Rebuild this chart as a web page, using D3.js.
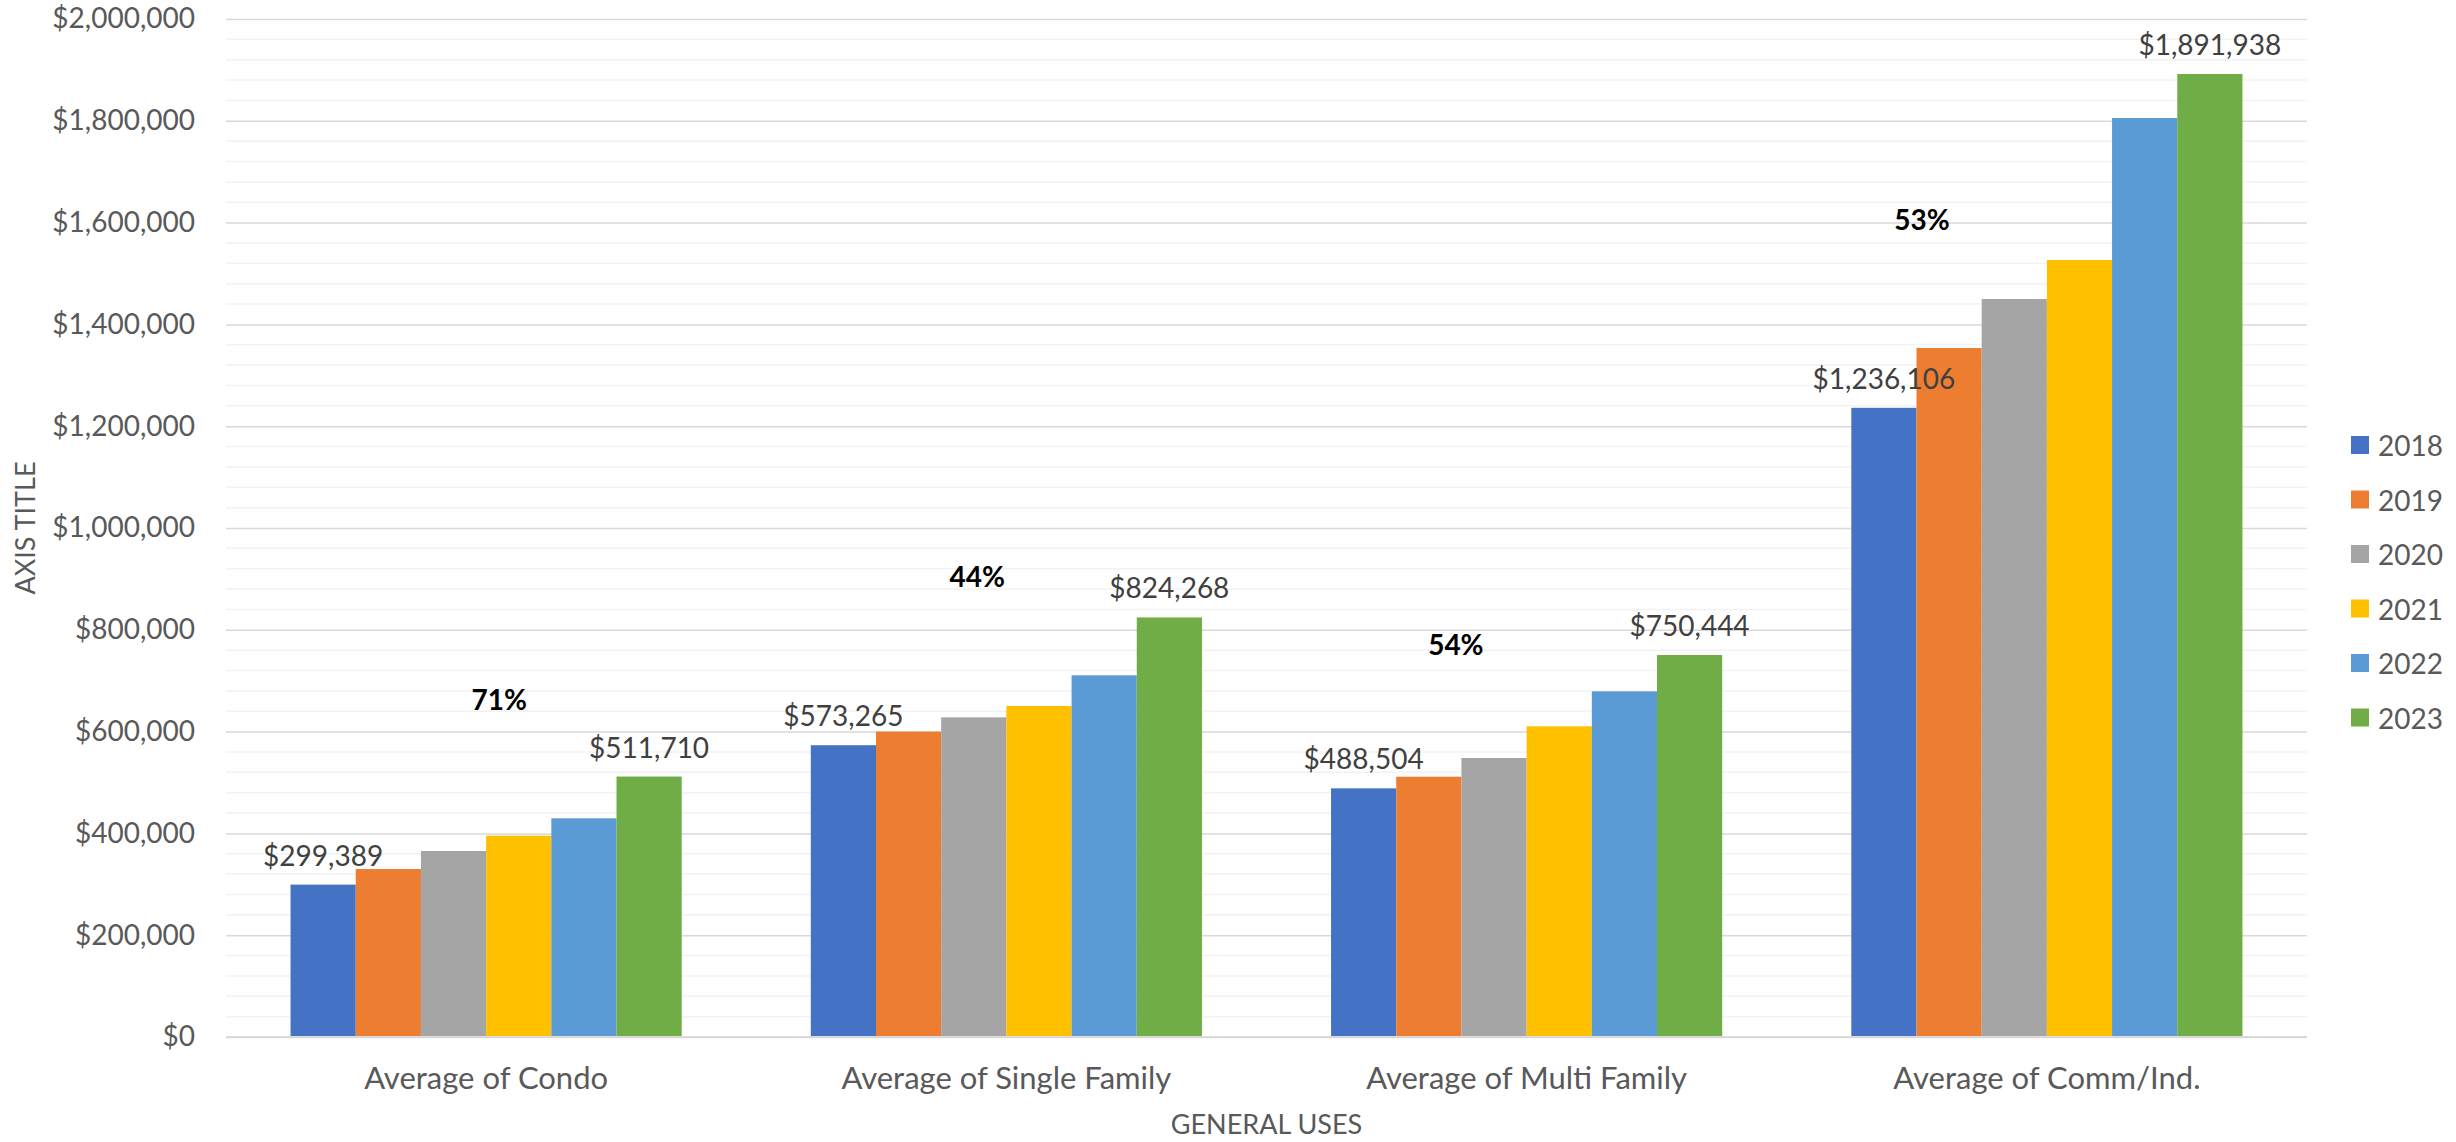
<!DOCTYPE html>
<html>
<head>
<meta charset="utf-8">
<script src="https://cdn.jsdelivr.net/npm/d3@7"></script>
<style>
  body { margin: 0; background: #fff; }
  text { font-family: Lato, "Open Sans", sans-serif; }
</style>
</head>
<body>
<svg id="fig_uses"></svg>
<script>
'use strict';

// categories and series
const categories = ['Average of Condo', 'Average of Single Family', 'Average of Multi Family', 'Average of Comm/Ind.'];
const years = ['2018', '2019', '2020', '2021', '2022', '2023'];
const colors = ['#4472C4', '#ED7D31', '#A5A5A5', '#FFC000', '#5B9BD5', '#70AD47'];

// one array per year, same order as categories
const v2018 = [299389, 573265, 488504, 1236106];
const v2019 = [330000, 600000, 511400, 1353600];
const v2020 = [365400, 628000, 548100, 1449900];
const v2021 = [395500, 650300, 610400, 1526500];
const v2022 = [429700, 710600, 679100, 1805500];
const v2023 = [511710, 824268, 750444, 1891938];
const series = [v2018, v2019, v2020, v2021, v2022, v2023];

// the growth text boxes, anchored in data units (value on y, share of the category band on x)
const growthAnchorValue = [664000, 906000, 772000, 1607000];
const growthAnchorShare = [0.525, 0.444, 0.364, 0.26];

const yTicks = [0, 200000, 400000, 600000, 800000, 1000000, 1200000, 1400000, 1600000, 1800000, 2000000];

const W = 2456, H = 1142;
const plot = { left: 226, right: 2307, top: 19, bottom: 1037 };
const font_size = 28;

const svg = d3.select('#fig_uses').attr('width', W).attr('height', H);

const x0 = d3.scaleBand().domain(categories).range([plot.left, plot.right]).padding(0);
const x1 = d3.scaleBand().domain(years).range([0, x0.bandwidth()]).paddingInner(0).paddingOuter(0.99);
const y = d3.scaleLinear().domain([0, 2000000]).range([plot.bottom, plot.top]);
const money = d3.format('$,.0f');

// minor gridlines
const minor = d3.range(0, 2000001, 40000).filter(v => v % 200000 !== 0);
svg.append('g').selectAll('line').data(minor).enter().append('line')
    .attr('x1', plot.left).attr('x2', plot.right)
    .attr('y1', d => y(d)).attr('y2', d => y(d))
    .attr('stroke', '#F2F2F2').attr('stroke-width', 1.5);

// major gridlines + tick labels
const yAxis = svg.append('g').attr('transform', 'translate(' + plot.left + ',0)')
    .call(d3.axisLeft(y).tickValues(yTicks).tickFormat(money)
        .tickSize(-(plot.right - plot.left)).tickPadding(31));
yAxis.select('.domain').remove();
yAxis.selectAll('.tick line').attr('stroke', '#D9D9D9').attr('stroke-width', 1.5);
yAxis.selectAll('.tick text').attr('fill', '#595959').attr('font-size', font_size)
    .style('font-family', 'Lato, sans-serif');

// bars
const groups = svg.append('g').selectAll('g.cat').data(categories).enter().append('g')
    .attr('class', 'cat')
    .attr('transform', d => 'translate(' + x0(d) + ',0)');

groups.selectAll('rect').data((c, ci) => years.map((yr, si) => ({ yr: yr, si: si, val: series[si][ci] })))
    .enter().append('rect')
    .attr('x', d => x1(d.yr))
    .attr('width', x1.bandwidth())
    .attr('y', d => y(d.val))
    .attr('height', d => y(0) - y(d.val))
    .attr('fill', d => colors[d.si]);

// zero line
svg.append('line')
    .attr('x1', plot.left).attr('x2', plot.right)
    .attr('y1', y(0)).attr('y2', y(0))
    .attr('stroke', '#D9D9D9').attr('stroke-width', 2);

// data labels on first and last year only
groups.selectAll('text.val').data((c, ci) => [0, years.length - 1].map(si => ({ yr: years[si], val: series[si][ci] })))
    .enter().append('text')
    .attr('class', 'val')
    .attr('x', d => x1(d.yr) + x1.bandwidth() / 2)
    .attr('y', d => y(d.val) - 19)
    .attr('text-anchor', 'middle')
    .attr('font-size', font_size)
    .attr('fill', '#404040')
    .text(d => money(d.val));

// growth annotations
svg.append('g').selectAll('text').data(categories).enter().append('text')
    .attr('x', (c, i) => x0(c) + x0.bandwidth() * growthAnchorShare[i])
    .attr('y', (c, i) => y(growthAnchorValue[i]))
    .attr('text-anchor', 'middle')
    .attr('dominant-baseline', 'central')
    .attr('font-size', font_size)
    .attr('font-weight', 'bold')
    .attr('fill', '#000')
    .text((c, i) => Math.round((v2023[i] / v2018[i] - 1) * 100) + '%');

// category labels
svg.append('g').selectAll('text').data(categories).enter().append('text')
    .attr('x', d => x0(d) + x0.bandwidth() / 2)
    .attr('y', 1089)
    .attr('text-anchor', 'middle')
    .attr('font-size', 31)
    .attr('fill', '#595959')
    .text(d => d);

// axis titles
svg.append('text')
    .attr('x', (plot.left + plot.right) / 2)
    .attr('y', 1134)
    .attr('text-anchor', 'middle')
    .attr('font-size', 27)
    .attr('fill', '#595959')
    .text('GENERAL USES');

const ty = (plot.top + plot.bottom) / 2;
svg.append('text')
    .attr('x', 24).attr('y', ty)
    .attr('text-anchor', 'middle')
    .attr('dominant-baseline', 'central')
    .attr('transform', 'rotate(-90, 24, ' + ty + ')')
    .attr('font-size', 27)
    .attr('fill', '#595959')
    .text('AXIS TITLE');

// legend
const legend = svg.append('g').selectAll('g').data(years).enter().append('g')
    .attr('transform', (d, i) => 'translate(2351,' + (445 + i * 54.5) + ')');
legend.append('rect')
    .attr('x', 0).attr('y', -9).attr('width', 18).attr('height', 18)
    .attr('fill', (d, i) => colors[i]);
legend.append('text')
    .attr('x', 27).attr('y', 0)
    .attr('dominant-baseline', 'central')
    .attr('font-size', font_size)
    .attr('fill', '#595959')
    .text(d => d);
</script>
</body>
</html>
